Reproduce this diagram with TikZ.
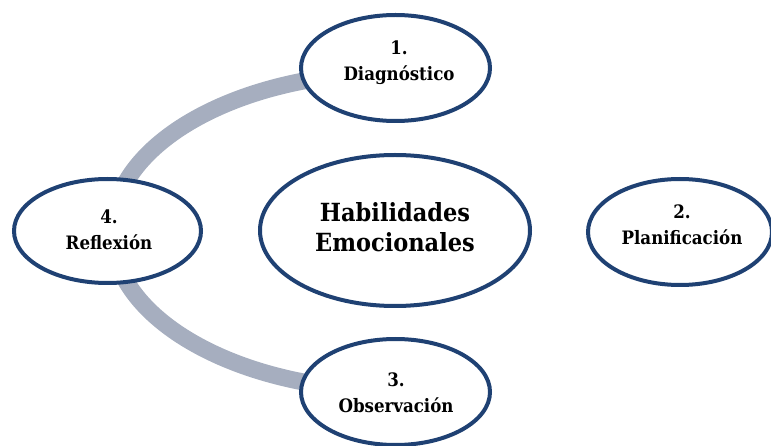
\documentclass[tikz,border=0pt]{standalone}
\usepackage{fontspec}
\setmainfont{DejaVu Serif Condensed}
\usetikzlibrary{shapes.geometric}
\definecolor{ringblue}{HTML}{1F4173}
\definecolor{arcgray}{HTML}{A6AEBF}
\begin{document}
\begin{tikzpicture}[x=1pt,y=-1pt,
  stage/.style={ellipse, draw=ringblue, line width=4pt, fill=white, inner sep=0pt},
  lbl/.style={align=center, inner sep=0pt, font=\bfseries\fontsize{18.5}{26}\selectfont},
  hublbl/.style={lbl, font=\bfseries\fontsize{25}{30}\selectfont},
  ring/.style={draw=arcgray, line width=17pt}]
\useasboundingbox (0,0) rectangle (771,446);
\coordinate (c) at (395,231.5);
\draw[ring] (c) ++(0,-159) arc[start angle=-90, end angle=-180, x radius=283, y radius=159];
\draw[ring] (c) ++(-283,0) arc[start angle=180, end angle=90, x radius=283, y radius=159];
\node[stage, minimum width=189pt, minimum height=106pt] (diag) at (395.5,68) {};
\node[stage, minimum width=187pt, minimum height=104pt] (refl) at (107.5,231) {};
\node[stage, minimum width=270pt, minimum height=151pt] (hab) at (395,230.5) {};
\node[stage, minimum width=184pt, minimum height=106pt] (plan) at (680,232) {};
\node[stage, minimum width=189pt, minimum height=106pt] (obs) at (395.5,392) {};
\node[lbl] (diagT) at (399,63) {1.\\Diagnóstico};
\node[lbl] (reflT) at (109,230) {4.\\Reflexión};
\node[hublbl] (habT) at (395,227) {Habilidades\\Emocionales};
\node[lbl] (planT) at (682,225) {2.\\Planificación};
\node[lbl] (obsT) at (396,393) {3.\\Observación};
\end{tikzpicture}
\end{document}
